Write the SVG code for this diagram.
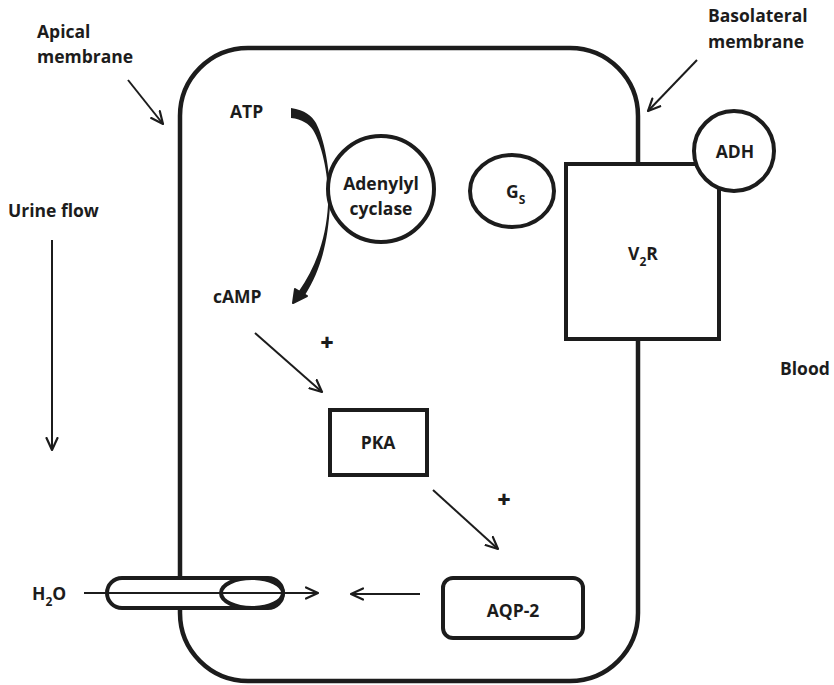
<svg xmlns="http://www.w3.org/2000/svg" width="834" height="685" viewBox="0 0 834 685">
  <style>
    text { font-family: "Open Sans", "Liberation Sans", sans-serif; font-weight: 700; fill: #1c1c1c; font-size: 17.5px; }
    .mid { text-anchor: middle; }
    .sub { font-size: 12px; }
    .membrane { fill: #fff; stroke: #1c1c1c; stroke-width: 4.5; }
    .shape { fill: #fff; stroke: #1c1c1c; stroke-width: 4; }
    .arrow { fill: none; stroke: #1c1c1c; stroke-width: 2; marker-end: url(#chevron); }
    .plus { font-size: 23px; font-weight: 800; }
  </style>
  <defs>
    <marker id="chevron" viewBox="0 0 14 14" refX="13" refY="7" markerWidth="14" markerHeight="14" markerUnits="userSpaceOnUse" orient="auto">
      <path d="M1,1.5 L13,7 L1,12.5" fill="none" stroke="#1c1c1c" stroke-width="2.2" stroke-linecap="round" stroke-linejoin="round"/>
    </marker>
  </defs>

  <rect width="834" height="685" fill="#fff"/>

  <!-- collecting duct cell -->
  <g id="cell">
    <rect class="membrane" x="180" y="48" width="458" height="633" rx="68" ry="68"/>
  </g>

  <!-- outside labels -->
  <g id="labels">
    <text x="37" y="38">Apical</text>
    <text x="37" y="63">membrane</text>
    <text x="708" y="22">Basolateral</text>
    <text x="708" y="48">membrane</text>
    <text x="8" y="217">Urine flow</text>
    <text x="780" y="375">Blood</text>
    <text x="32" y="600">H<tspan class="sub" dy="6">2</tspan><tspan dy="-6">O</tspan></text>
  </g>

  <!-- aquaporin channel in the apical membrane -->
  <g id="channel">
    <rect class="shape" x="107" y="578" width="176" height="30" rx="15" ry="15"/>
    <ellipse class="shape" cx="252" cy="593" rx="31" ry="15"/>
  </g>

  <g id="atp">
    <text x="230" y="118">ATP</text>
  </g>
  <g id="camp">
    <text x="213" y="303">cAMP</text>
  </g>

  <g id="adenylyl-cyclase">
    <circle class="shape" cx="381" cy="189" r="53" stroke-width="3.5"/>
    <text class="mid" x="381" y="190">Adenylyl</text>
    <text class="mid" x="381" y="215">cyclase</text>
  </g>

  <g id="gs">
    <ellipse class="shape" cx="512" cy="191" rx="42" ry="36" stroke-width="3.5"/>
    <text x="506" y="198">G<tspan class="sub" dy="6">S</tspan></text>
  </g>

  <g id="v2r">
    <rect class="shape" x="566" y="164" width="153" height="175"/>
    <text x="628" y="260">V<tspan class="sub" dy="6">2</tspan><tspan dy="-6">R</tspan></text>
  </g>

  <g id="adh">
    <circle class="shape" cx="734" cy="151" r="40"/>
    <text class="mid" x="735" y="158">ADH</text>
  </g>

  <g id="pka">
    <rect class="shape" x="330" y="410" width="97" height="65"/>
    <text class="mid" x="378" y="449">PKA</text>
  </g>

  <g id="aqp2">
    <rect class="shape" x="443" y="578" width="140" height="60" rx="10" ry="10"/>
    <text class="mid" x="513" y="617">AQP-2</text>
  </g>

  <!-- connectors -->
  <g id="connectors">
    <!-- ATP to cAMP conversion across adenylyl cyclase: brush stroke, heavy at the ends, thin past the enzyme -->
    <path d="M291,108 C305,110 312,116 316,123 C325,140 331,175 330,205 C328,240 322,268 305,295 L299,291 C315,268 326,240 328,205 C329,175 322,145 313,130 C309,124 302,119 291,118 Z" fill="#1c1c1c"/>
    <polygon points="293,303 295,289 307,296" fill="#1c1c1c" stroke="#1c1c1c" stroke-width="2" stroke-linejoin="round"/>

    <line class="arrow" x1="128" y1="80" x2="163" y2="124"/>
    <line class="arrow" x1="697" y1="60" x2="648" y2="111"/>
    <line class="arrow" x1="52" y1="240" x2="52" y2="450"/>
    <line class="arrow" x1="255" y1="333" x2="322" y2="392"/>
    <line class="arrow" x1="433" y1="490" x2="498" y2="549"/>
    <line class="arrow" x1="84" y1="593" x2="318" y2="593"/>
    <line class="arrow" x1="420" y1="594" x2="351" y2="594"/>

    <text class="plus mid" x="327" y="351">+</text>
    <text class="plus mid" x="504" y="508">+</text>
  </g>
</svg>
